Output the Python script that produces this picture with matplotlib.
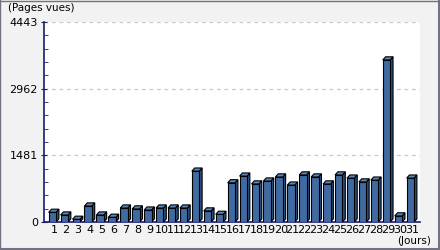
import matplotlib
matplotlib.use("Agg")
import matplotlib.pyplot as plt
from matplotlib.lines import Line2D
from matplotlib.patches import Polygon

# Data
days = list(range(1, 32))
pages_vues = [215, 155, 60, 355, 155, 105, 310, 290, 265, 310,
              310, 310, 1130, 245, 170, 870, 1020, 845, 910, 1000,
              820, 1045, 1000, 845, 1045, 975, 890, 930, 3600, 135, 975]
y_ticks = [0, 1481, 2962, 4443]

plt.rcParams['font.family'] = ['Liberation Sans Narrow', 'DejaVu Sans']

# Creating the figure
fig = plt.figure(figsize=(4.4, 2.5), dpi=100, facecolor="#f2f2f2")
ax = fig.add_axes([44 / 440, 28 / 250, 376 / 440, 200 / 250])
ax.set_facecolor("white")

# Outer frame: thin on top/left, thicker on right/bottom
frame = "#727282"
fig.lines.append(Line2D([0, 1], [0.998, 0.998], transform=fig.transFigure, color=frame, linewidth=1.0))
fig.lines.append(Line2D([0.0011, 0.0011], [0, 1], transform=fig.transFigure, color=frame, linewidth=1.0))
fig.lines.append(Line2D([0.9966, 0.9966], [0, 1], transform=fig.transFigure, color=frame, linewidth=2.2))
fig.lines.append(Line2D([0, 1], [0.006, 0.006], transform=fig.transFigure, color=frame, linewidth=2.2))

# Bars with a small 3D look
front = "#3f6aa2"
top_col = "#5a86bb"
side_col = "#2c4f7c"
w = 0.62
dx = 0.24
dy = 70
for d, v in zip(days, pages_vues):
    x0 = d - 0.45
    ax.add_patch(Polygon([(x0 + w, 0), (x0 + w + dx, dy), (x0 + w + dx, v + dy), (x0 + w, v)],
                         closed=True, facecolor=side_col, edgecolor="black", linewidth=0.8, zorder=3))
    ax.add_patch(Polygon([(x0, v), (x0 + dx, v + dy), (x0 + w + dx, v + dy), (x0 + w, v)],
                         closed=True, facecolor=top_col, edgecolor="black", linewidth=0.8, zorder=3))
ax.bar([d - 0.45 for d in days], pages_vues, width=w, align="edge", color=front,
       edgecolor="black", linewidth=0.8, zorder=4)

# Customizing axis
ax.set_xlim(0.16, 31.67)
ax.set_ylim(0, 4443)
ax.set_yticks(y_ticks)
ax.set_yticklabels([str(t) for t in y_ticks])
ax.set_yticks([i * 4443 / 15 for i in range(16)], minor=True)
ax.set_xticks(days)
ax.set_xticklabels([str(d) for d in days])
ax.tick_params(axis="y", which="major", direction="inout", length=5, color="#1a1a6e", labelsize=8, pad=2)
ax.tick_params(axis="y", which="minor", direction="in", length=3, color="#1a1a6e")
ax.tick_params(axis="x", length=0, labelsize=8, pad=2)
for t in y_ticks[1:]:
    ax.axhline(t, color="#c8c8c8", linestyle=(0, (3, 3)), linewidth=0.9, zorder=1)

for s in ["top", "right"]:
    ax.spines[s].set_visible(False)
ax.spines["left"].set_color("#1a1a6e")
ax.spines["bottom"].set_color("#1a1a6e")
ax.spines["left"].set_linewidth(1.2)
ax.spines["bottom"].set_linewidth(1.2)

fig.text(8 / 440, 1 - 8 / 250, "(Pages vues)", fontsize=7.5, va="center", ha="left")
fig.text(431 / 440, 1 - 241 / 250, "(Jours)", fontsize=7.5, va="center", ha="right")

# Saving the chart
plt.savefig("out.png", dpi=100, facecolor=fig.get_facecolor())
plt.close()
